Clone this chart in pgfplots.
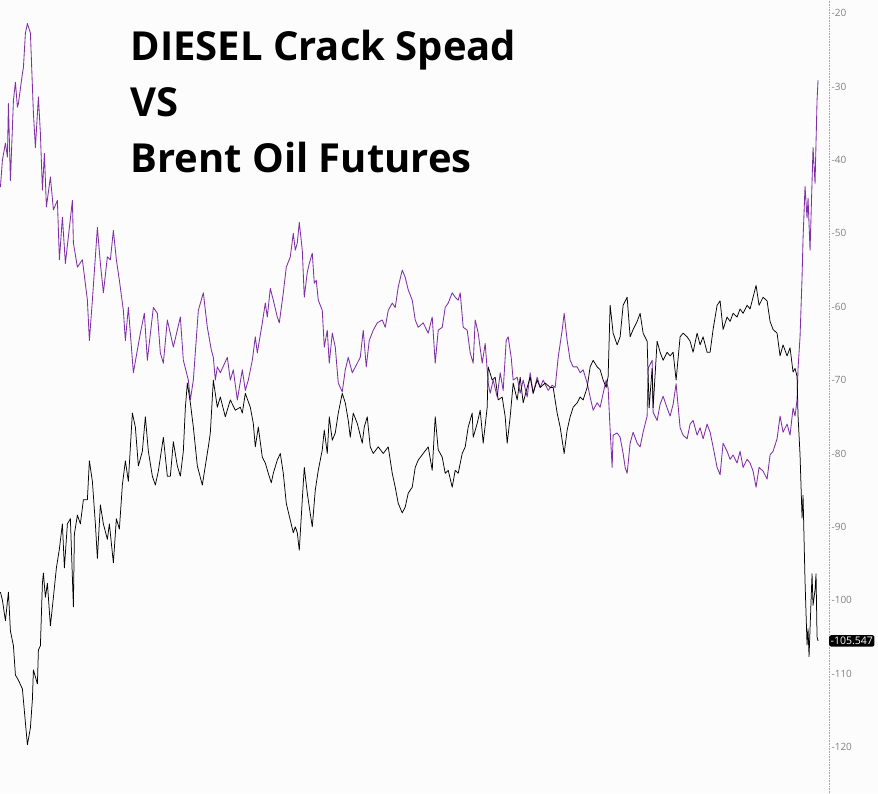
\documentclass[border=0pt]{standalone}
\usepackage{pgfplots}
\pgfplotsset{compat=1.18}
\usepackage{fontspec}
\setmainfont{Open Sans}
\definecolor{brentpurple}{RGB}{128,48,166}
\definecolor{bggray}{RGB}{252,252,252}
\definecolor{ticklab}{RGB}{130,130,130}
\begin{document}
\begin{tikzpicture}
\fill[bggray] (0,0) rectangle (878pt,793pt);
\begin{axis}[
  scale only axis,
  width=829pt, height=793pt,
  at={(0,0)}, anchor=south west,
  xmin=0, xmax=829,
  ymin=-126.27, ymax=-18.23,
  axis x line=none,
  axis y line*=right,
  y axis line style={draw=gray!70, densely dotted, line width=0.6pt},
  ytick={-120,-110,-100,-90,-80,-70,-60,-50,-40,-30,-20},
  major tick length=0pt,
  yticklabel style={font=\fontsize{10}{12}\selectfont, text=ticklab, xshift=-1pt},
  /pgf/number format/assume math mode=true,
  clip=false,
]
% Brent Oil Futures (purple)
\addplot[brentpurple, line width=0.85pt, line join=round] coordinates {
(0,-43.7)(2,-40.0)(5,-37.7)(7,-39.6)(8,-32.3)(10,-42.8)(13,-31.9)(15,-29.4)(17,-32.8)(18,-32.3)
(22,-28.2)(23,-27.4)(25,-22.7)(27,-21.4)(30,-22.7)(33,-33.6)(35,-38.3)(38,-31.4)(40,-36.4)(42,-44.1)
(44,-39.1)(46,-46.4)(50,-42.3)(53,-46.8)(57,-45.5)(59,-53.6)(62,-47.8)(65,-54.1)(72,-45.5)(73,-51.3)
(77,-54.6)(82,-53.6)(87,-59.1)(89,-64.6)(92,-59.1)(97,-49.2)(100,-54.1)(103,-58.1)(107,-53.2)(110,-53.6)
(113,-49.6)(116,-53.6)(119,-56.4)(123,-60.5)(125,-64.6)(128,-60.1)(133,-69.0)(137,-65.9)(140,-63.6)(144,-60.9)
(147,-67.3)(153,-60.1)(157,-60.9)(160,-66.3)(163,-67.7)(167,-61.8)(173,-65.5)(180,-61.4)(183,-67.3)(188,-70.0)
(190,-72.7)(193,-70.0)(198,-60.5)(203,-58.1)(207,-62.8)(211,-65.9)(213,-66.9)(215,-70.0)(217,-68.2)(220,-69.0)
(227,-66.9)(230,-70.0)(233,-68.6)(237,-72.7)(242,-68.6)(245,-71.4)(248,-70.0)(252,-67.3)(255,-64.1)(257,-66.3)
(262,-62.2)(265,-59.5)(267,-61.4)(270,-57.5)(273,-59.1)(277,-61.4)(279,-62.2)(283,-58.1)(286,-54.6)(290,-53.2)
(293,-50.0)(295,-52.3)(297,-51.3)(299,-48.5)(302,-52.3)(304,-58.7)(307,-55.3)(309,-54.1)(312,-52.7)(314,-56.8)
(316,-56.4)(318,-59.1)(322,-60.5)(324,-65.5)(327,-63.2)(329,-67.7)(332,-63.6)(335,-65.5)(338,-70.4)(342,-71.6)
(345,-68.6)(348,-66.9)(352,-69.0)(357,-67.7)(360,-66.9)(363,-63.2)(366,-68.2)(369,-64.6)(373,-63.2)(377,-62.2)
(382,-61.8)(385,-62.8)(388,-60.5)(392,-59.5)(395,-60.1)(398,-57.3)(402,-55.0)(405,-56.0)(408,-57.7)(412,-59.1)
(415,-61.8)(418,-62.8)(423,-62.2)(428,-63.6)(432,-61.4)(435,-67.7)(438,-63.2)(442,-62.8)(445,-60.1)(448,-59.5)
(452,-58.1)(455,-58.7)(458,-59.1)(460,-58.1)(463,-62.8)(467,-63.2)(470,-66.3)(473,-67.7)(475,-61.8)(478,-63.6)
(482,-67.7)(485,-65.0)(488,-70.4)(490,-71.8)(493,-70.0)(497,-72.3)(500,-69.0)(503,-71.4)(506,-64.6)(508,-64.1)
(511,-66.9)(513,-70.0)(517,-69.6)(520,-71.8)(523,-70.0)(527,-72.3)(530,-69.0)(533,-71.8)(537,-69.6)(540,-71.0)
(543,-70.0)(548,-71.4)(552,-70.7)(555,-71.0)(558,-66.9)(562,-63.2)(564,-60.9)(567,-64.6)(570,-67.3)(573,-68.2)
(577,-68.2)(580,-69.0)(583,-68.6)(587,-70.4)(590,-72.3)(593,-74.1)(597,-73.1)(600,-73.7)(603,-71.8)(606,-70.0)
(608,-71.1)(610,-76.8)(612,-81.9)(613,-77.5)(617,-77.2)(620,-77.8)(623,-80.0)(625,-81.9)(627,-82.7)(630,-78.6)
(633,-77.1)(637,-78.6)(640,-79.1)(643,-77.1)(647,-74.9)(648,-68.4)(652,-67.3)(653,-74.4)(657,-75.5)(660,-73.3)
(663,-72.2)(667,-73.8)(670,-74.9)(673,-73.3)(676,-70.5)(680,-76.5)(683,-77.5)(687,-78.0)(690,-76.0)(693,-75.5)
(697,-77.5)(700,-76.5)(703,-78.0)(707,-76.0)(710,-77.1)(713,-79.1)(717,-81.9)(720,-82.9)(723,-78.6)(727,-79.7)
(730,-80.8)(733,-80.2)(737,-81.3)(740,-79.7)(743,-81.9)(747,-80.8)(750,-81.3)(753,-82.4)(756,-84.6)(759,-81.9)
(763,-82.4)(767,-83.5)(770,-80.2)(773,-79.7)(777,-78.0)(780,-74.9)(783,-77.1)(787,-76.0)(790,-77.5)(793,-73.8)
(795,-74.9)(797,-72.7)(798,-68.4)(800,-64.1)(802,-56.0)(803,-50.7)(805,-43.6)(807,-47.9)(808,-45.2)(810,-52.3)
(813,-38.3)(815,-43.2)(817,-31.9)(818,-29.1)
};
% Diesel crack spread (black)
\addplot[black, line width=0.75pt, line join=round] coordinates {
(0,-98.9)(2,-100.0)(5,-102.8)(8,-98.9)(10,-104.2)(13,-106.2)(15,-110.2)(18,-110.9)(22,-112.1)(25,-116.7)
(27,-119.7)(30,-117.4)(32,-113.5)(33,-109.5)(37,-111.4)(38,-106.8)(40,-106.2)(42,-97.7)(43,-96.3)(45,-99.6)
(47,-97.7)(50,-103.5)(53,-99.6)(56,-95.6)(59,-93.0)(62,-89.6)(64,-95.6)(67,-89.6)(70,-88.9)(73,-100.9)
(74,-91.0)(77,-88.4)(80,-89.6)(83,-86.3)(87,-86.3)(89,-81.0)(92,-83.8)(95,-89.6)(97,-94.3)(100,-87.0)
(103,-89.6)(107,-91.7)(109,-89.6)(113,-94.9)(116,-88.9)(119,-90.3)(122,-84.3)(125,-81.0)(128,-83.8)(132,-74.5)
(135,-76.4)(138,-81.7)(142,-79.7)(145,-75.0)(148,-79.7)(152,-83.1)(155,-84.3)(158,-82.4)(163,-77.8)(167,-83.1)
(170,-83.1)(173,-78.4)(177,-81.7)(180,-83.1)(183,-79.7)(185,-73.8)(187,-70.4)(190,-73.1)(193,-76.4)(197,-81.7)
(202,-84.3)(205,-81.7)(208,-79.1)(210,-77.2)(213,-70.0)(217,-73.7)(220,-72.3)(225,-75.0)(230,-72.7)(235,-74.1)
(240,-73.7)(242,-74.5)(245,-71.8)(250,-73.7)(253,-75.9)(255,-79.1)(258,-76.4)(262,-80.5)(265,-81.3)(268,-82.7)
(271,-84.0)(273,-82.7)(277,-80.9)(280,-80.0)(283,-82.7)(286,-86.8)(290,-89.1)(293,-90.8)(295,-90.0)(297,-90.8)
(299,-93.2)(302,-86.3)(304,-81.9)(307,-85.4)(309,-87.3)(312,-90.0)(315,-85.0)(318,-82.3)(322,-79.5)(324,-76.8)
(327,-80.0)(329,-75.0)(332,-78.2)(335,-77.2)(338,-74.5)(342,-71.8)(345,-73.1)(348,-75.5)(350,-77.8)(353,-74.5)
(357,-75.9)(362,-78.6)(364,-76.4)(367,-75.0)(370,-79.1)(373,-80.0)(378,-79.1)(383,-80.0)(388,-79.1)(392,-82.7)
(395,-84.6)(398,-86.8)(402,-88.1)(405,-87.3)(408,-85.4)(412,-84.6)(415,-81.9)(418,-80.9)(423,-80.0)(428,-79.1)
(432,-82.3)(435,-75.0)(438,-79.5)(442,-80.5)(445,-82.7)(448,-82.3)(452,-84.6)(455,-82.3)(458,-82.7)(462,-80.0)
(465,-79.1)(468,-76.4)(472,-74.5)(473,-77.8)(477,-75.9)(480,-74.1)(483,-78.6)(487,-73.7)(488,-68.2)(492,-70.0)
(495,-69.6)(498,-72.7)(502,-72.3)(505,-75.0)(507,-78.6)(510,-75.0)(513,-70.4)(517,-72.7)(520,-69.6)(523,-73.1)
(527,-71.0)(530,-69.6)(533,-71.8)(537,-70.0)(540,-71.0)(545,-70.4)(550,-71.0)(553,-71.0)(557,-74.5)(560,-76.4)
(564,-80.0)(567,-76.8)(570,-75.0)(573,-73.7)(577,-73.1)(580,-72.3)(583,-72.7)(587,-71.0)(590,-68.2)(593,-67.3)
(597,-68.2)(600,-68.6)(603,-70.0)(606,-71.0)(608,-69.5)(610,-59.8)(613,-63.6)(617,-65.2)(620,-64.1)(623,-59.8)
(627,-58.7)(630,-64.1)(633,-63.1)(637,-62.0)(640,-60.9)(643,-63.6)(647,-64.7)(649,-73.8)(652,-68.4)(653,-73.8)
(657,-64.7)(660,-66.2)(663,-67.3)(667,-66.2)(670,-66.7)(673,-66.2)(676,-70.0)(680,-64.1)(683,-63.6)(687,-64.1)
(690,-64.7)(693,-66.2)(697,-63.6)(700,-65.2)(703,-64.1)(707,-66.2)(710,-66.2)(713,-63.1)(717,-59.8)(720,-59.2)
(723,-63.1)(727,-61.4)(730,-62.0)(733,-60.9)(737,-61.4)(740,-60.3)(743,-60.9)(747,-59.8)(750,-60.3)(753,-58.7)
(756,-57.1)(759,-59.8)(763,-58.7)(767,-59.2)(770,-62.0)(773,-63.1)(777,-63.6)(780,-66.7)(783,-65.2)(787,-66.7)
(790,-65.6)(793,-68.9)(795,-68.4)(797,-69.5)(798,-74.9)(800,-80.2)(802,-88.8)(803,-85.7)(805,-97.5)(807,-106.1)
(808,-103.9)(809,-107.7)(812,-96.4)(813,-100.7)(815,-98.6)(816,-96.4)(817,-105.0)(818,-105.547)
};
\node[anchor=west, fill=black, text=white, rounded corners=2pt, inner xsep=1.5pt, inner ysep=1.8pt,
  font=\fontsize{10.5}{11}\selectfont] at (axis cs:829,-105.547) {-105.547};
\node[anchor=north west, align=left, font=\fontsize{40}{56}\selectfont\bfseries, inner sep=0pt]
  at (axis cs:130,-22.3) {DIESEL Crack Spead\\VS\\Brent Oil Futures};
\end{axis}
\path[use as bounding box] (0,0) rectangle (878pt,793pt);
\end{tikzpicture}
\end{document}
